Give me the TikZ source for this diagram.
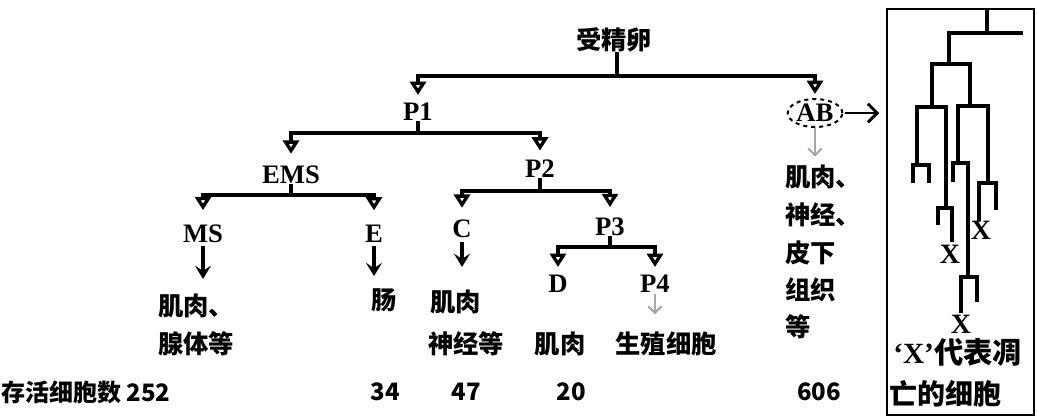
\documentclass[tikz,border=0pt]{standalone}
\usepackage{fontspec}
\setmainfont{Liberation Serif}
\newfontfamily\cjk{Noto Sans CJK SC}
\usetikzlibrary{arrows.meta,shapes.geometric}
\begin{document}
\begin{tikzpicture}[x=0.75pt,y=-0.75pt,
  lab/.style={font=\bfseries\fontsize{20}{24}\selectfont, inner sep=0pt},
  zh/.style={font=\cjk\bfseries\fontsize{19}{24}\selectfont, inner sep=0pt},
  num/.style={font=\cjk\bfseries\fontsize{18}{22}\selectfont, inner sep=0pt},
  xmark/.style={font=\bfseries\fontsize{21}{24}\selectfont, inner sep=0pt},
  bar/.style={line width=2.6pt},
  split/.style={line width=2.6pt, -{Triangle[open, length=10pt, width=12pt]}},
  down/.style={line width=2.6pt, -{Stealth[length=10pt, width=12pt, inset=4pt]}},
  faint/.style={line width=1.5pt, black!35, -{Straight Barb[length=5pt, width=10pt]}},
  tree/.style={line width=2.8pt},
]
\useasboundingbox (0,0) rectangle (1037,419);

% level 0
\node[zh] (egg) at (614,40) {受精卵};
\coordinate (b0) at (617,76);
\node[lab] (P1) at (418,112) {P1};
\node[lab, draw, dashed, ellipse, line width=1.5pt, inner sep=0pt,
      minimum width=41pt, minimum height=21pt] (AB) at (815,113) {AB};
\draw[bar] (617,52) -- (b0);
\draw[split, shorten >=6pt] (b0) -| (P1);
\draw[split, shorten >=3pt] (b0) -| (AB);

% P1 split
\coordinate (b1) at (418,133);
\node[lab] (EMS) at (291,175) {EMS};
\node[lab] (P2) at (540,169) {P2};
\draw[bar] (P1) -- (b1);
\draw[split, shorten >=9pt] (b1) -| (EMS);
\draw[split, shorten >=7pt] (b1) -| (P2);

% EMS split
\coordinate (b2) at (291,195);
\node[lab] (MS) at (203,234) {MS};
\node[lab] (E) at (374,234) {E};
\draw[bar] (EMS) -- (b2);
\draw[split, shorten >=11pt] (b2) -| (MS);
\draw[split, shorten >=11pt] (b2) -| (E);

% P2 split
\coordinate (b3) at (540,191);
\node[lab] (C) at (462,229) {C};
\node[lab] (P3) at (610,227) {P3};
\draw[bar] (P2) -- (b3);
\draw[split, shorten >=9pt] (b3) -| (C);
\draw[split, shorten >=8pt] (b3) -| (P3);

% P3 split
\coordinate (b4) at (610,247);
\node[lab] (D) at (558,284) {D};
\node[lab] (P4) at (655,284) {P4};
\draw[bar] (P3) -- (b4);
\draw[split, shorten >=6pt] (b4) -| (D);
\draw[split, shorten >=6pt] (b4) -| (P4);

% fates
\node[zh, anchor=west] (MSa) at (158,306) {肌肉、};
\node[zh, anchor=west] (MSb) at (158,344) {腺体等};
\node[zh] (Ea) at (384,300) {肠};
\node[zh, anchor=west] (Ca) at (430,302) {肌肉};
\node[zh, anchor=west] (Cb) at (428,344) {神经等};
\node[zh] (Da) at (560,344) {肌肉};
\node[zh] (P4a) at (666,344) {生殖细胞};
\node[zh, anchor=west] (ABa) at (785,177) {肌肉、};
\node[zh, anchor=west] (ABb) at (785,215) {神经、};
\node[zh, anchor=west] (ABc) at (785,253) {皮下};
\node[zh, anchor=west] (ABd) at (785,290) {组织};
\node[zh, anchor=west] (ABe) at (785,327) {等};

\draw[down, shorten <=2pt, shorten >=11pt] (MS) -- (MS |- MSa.north);
\draw[down, shorten <=2pt, shorten >=9pt] (E) -- (E |- Ea.north);
\draw[down, shorten <=3pt, shorten >=17pt] (C) -- (C |- Ca.north);
\draw[faint, shorten <=1pt, shorten >=13pt] (P4) -- (P4 |- P4a.north);
\draw[faint, shorten <=0pt, shorten >=6pt] (AB) -- (AB |- ABa.north);

% counts
\node[num, anchor=west] (cnt) at (1,392) {存活细胞数 252};
\node[num] (n34) at (385,392) {34};
\node[num] (n47) at (466,392) {47};
\node[num] (n20) at (571,392) {20};
\node[num] (n606) at (819,392) {606};

% right panel
\node[draw, line width=1.9pt, minimum width=110pt, minimum height=304.5pt, inner sep=0pt] (box) at (960.5,212) {};
\draw[line width=2.2pt, -{Straight Barb[length=7pt, width=14pt]}, shorten <=1pt, shorten >=5pt] (AB) -- (AB -| box.west);

\draw[tree] (987,9) -- (987,33);
\draw[tree] (949,64) -- (949,33) -- (1023,33);
\draw[tree] (932,107) -- (932,64) -- (970,64) -- (970,106);
\draw[tree] (917,165) -- (917,107) -- (946,107) -- (946,208);
\draw[tree] (958,163) -- (958,106) -- (988,106) -- (988,183);
\draw[tree] (913,183) -- (913,165) -- (929,165) -- (929,183);
\draw[tree] (938,225) -- (938,208) -- (952,208) -- (952,242);
\draw[tree] (953,182) -- (953,163) -- (968,163) -- (968,277);
\draw[tree] (979,221) -- (979,183) -- (996,183) -- (996,210);
\draw[tree] (961,313) -- (961,277) -- (977,277) -- (977,302);
\node[xmark] (x1) at (950,254) {X};
\node[xmark] (x2) at (981,230) {X};
\node[xmark] (x3) at (961,324) {X};

\node[font=\bfseries\fontsize{22}{26}\selectfont, inner sep=0pt, anchor=west] (leg1) at (893,352) {‘X’{\cjk\bfseries 代表凋}};
\node[font=\cjk\bfseries\fontsize{21}{24}\selectfont, inner sep=0pt, anchor=west] (leg2) at (889,394) {亡的细胞};
\end{tikzpicture}
\end{document}
